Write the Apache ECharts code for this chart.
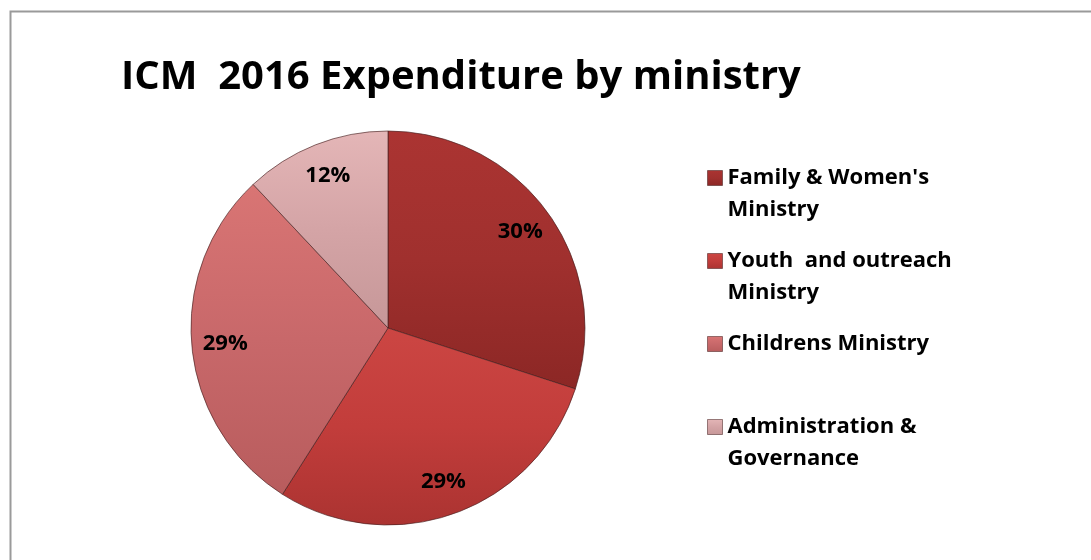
<!DOCTYPE html>
<html>
<head>
<meta charset="utf-8">
<script src="https://cdn.jsdelivr.net/npm/echarts@6/dist/echarts.min.js"></script>
<style>
  html, body { margin: 0; padding: 0; background: #fff; }
  #chart { width: 1091px; height: 560px; }
</style>
</head>
<body>
<div id="chart"></div>
<script>
// ---- data ----
const titleText = 'ICM  2016 Expenditure by ministry';
const categories = [
  "Family & Women's\nMinistry",
  "Youth  and outreach\nMinistry",
  "Childrens Ministry",
  "Administration &\nGovernance"
];
const shares = [30, 29, 29, 12];

// ---- styles ----
const baseColors = ['#a0302e', '#c23d3b', '#c8686a', '#d4a4a6'];
const lightColors = ['#ab3432', '#cc4643', '#d97574', '#e4b6b7'];
const darkColors  = ['#8c2725', '#ab3331', '#b85c5d', '#c69798'];

function grad(i) {
  return new echarts.graphic.LinearGradient(0, 0, 0, 1, [
    { offset: 0, color: lightColors[i] },
    { offset: 0.5, color: baseColors[i] },
    { offset: 1, color: darkColors[i] }
  ]);
}

const fontFamily = '"Open Sans", Lato, sans-serif';

const chart = echarts.init(document.getElementById('chart'));
const pieData = categories.map((c, i) => ({
  name: c,
  value: shares[i],
  itemStyle: { color: grad(i) }
}));
const labelData = categories.map((c, i) => ({ name: c, value: shares[i] }));

chart.setOption({
  backgroundColor: '#ffffff',
  animation: false,
  color: baseColors,
  graphic: [{
    type: 'rect',
    left: 8, top: 9,
    shape: { width: 1200, height: 700 },
    style: { fill: 'none', stroke: '#9a9a9a', lineWidth: 2 },
    silent: true
  }],
  title: {
    text: titleText,
    left: 121,
    top: 58,
    padding: 0,
    textStyle: { fontFamily, fontWeight: 'bold', fontSize: 40, color: '#000' }
  },
  legend: {
    orient: 'vertical',
    left: 707,
    top: 130,
    padding: 0,
    itemWidth: 15,
    itemHeight: 15,
    itemGap: -13,
    icon: 'rect',
    textStyle: {
      fontFamily, fontWeight: 'bold', fontSize: 22, color: '#000', lineHeight: 32
    },
    itemStyle: { borderColor: 'rgba(60,20,20,0.5)', borderWidth: 1 },
    data: categories,
    formatter: function (name) {
      const lines = name.split('\n');
      if (lines.length === 1) return '\u00a0\n' + name + '\n\u00a0';
      return '\u00a0\n' + name;
    }
  },
  series: [
    {
      type: 'pie',
      center: [388, 328],
      radius: [0, 197],
      startAngle: 90,
      clockwise: true,
      label: { show: false },
      labelLine: { show: false },
      itemStyle: { borderColor: 'rgba(70,30,30,0.65)', borderWidth: 1 },
      emphasis: { disabled: true },
      data: pieData
    },
    {
      type: 'pie',
      center: [388, 328],
      radius: [124, 197],
      startAngle: 90,
      clockwise: true,
      silent: true,
      itemStyle: { color: 'rgba(0,0,0,0)', borderWidth: 0 },
      label: {
        show: true,
        position: 'inside',
        formatter: '{c}%',
        fontFamily, fontWeight: 'bold', fontSize: 22, color: '#000'
      },
      labelLine: { show: false },
      emphasis: { disabled: true },
      data: labelData
    }
  ]
});
</script>
</body>
</html>
